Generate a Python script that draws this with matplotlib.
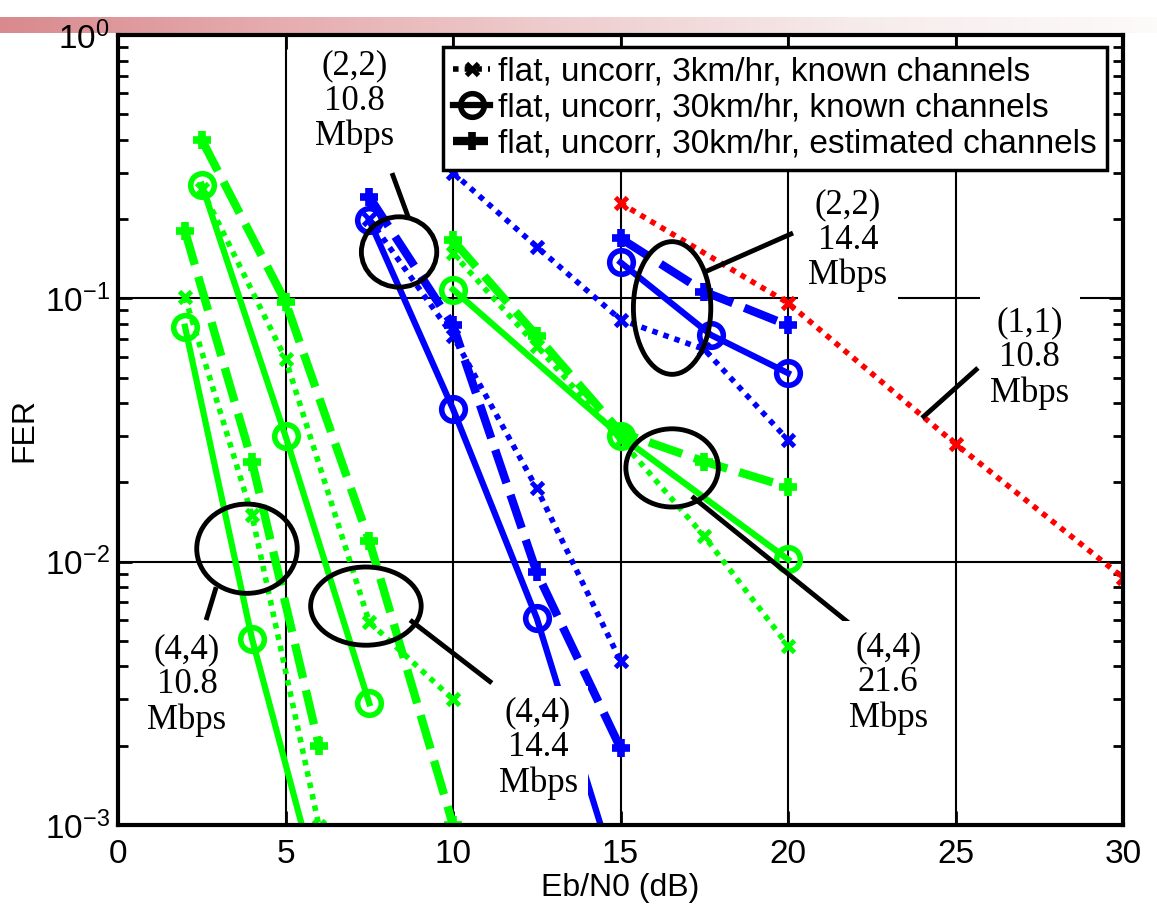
import numpy as np
import matplotlib
matplotlib.use("Agg")
import matplotlib.pyplot as plt
from matplotlib.patches import Ellipse
from matplotlib.lines import Line2D
from matplotlib.colors import LinearSegmentedColormap
from matplotlib.ticker import NullLocator

plt.rcParams['font.family'] = ['Liberation Sans', 'DejaVu Sans']
plt.rcParams['mathtext.default'] = 'regular'

# ---- values (FER vs Eb/N0) ----
# "slow" = 3km/hr known channels (dotted, x)
# "fast" = 30km/hr known channels (solid, o)
# "est"  = 30km/hr estimated channels (dashed, +)

# (4,4) 10.8 Mbps, green
g108_x = [2, 4, 6]
g108_slow = [0.101, 0.015, 0.00099]
g108_fast = [0.078, 0.0051, 0.00057]
g108_est = [0.18, 0.024, 0.002]

# (4,4) 14.4 Mbps, green
g144_x = [2.5, 5, 7.5, 10]
g144_slow = [0.26, 0.059, 0.0059, 0.003]
g144_fast_x = [2.5, 5, 7.5]
g144_fast = [0.27, 0.030, 0.0029]
g144_est = [0.40, 0.097, 0.012, 0.001]

# (2,2) 10.8 Mbps, blue
b108_x = [7.5, 10, 12.5, 15]
b108_slow = [0.20, 0.072, 0.019, 0.0042]
b108_fast = [0.198, 0.038, 0.0061, 0.00057]
b108_est = [0.243, 0.079, 0.0091, 0.00196]

# (4,4) 21.6 Mbps, green
g216_x = [10, 12.5, 15, 17.5, 20]
g216_slow = [0.148, 0.066, 0.029, 0.0125, 0.0048]
g216_fast_x = [10, 15, 20]
g216_fast = [0.108, 0.030, 0.0102]
g216_est = [0.166, 0.072, 0.031, 0.024, 0.0192]

# (2,2) 14.4 Mbps, blue
b144_slow_x = [10, 12.5, 15, 17.5, 20]
b144_slow = [0.30, 0.157, 0.083, 0.064, 0.029]
b144_fast_x = [15, 17.7, 20]
b144_fast = [0.137, 0.0726, 0.052]
b144_est_x = [15, 17.5, 20]
b144_est = [0.169, 0.106, 0.079]

# (1,1) 10.8 Mbps, red
r108_x = [15, 20, 25, 30]
r108_slow = [0.23, 0.096, 0.028, 0.0087]

legend_labels = ["flat, uncorr, 3km/hr, known channels",
                 "flat, uncorr, 30km/hr, known channels",
                 "flat, uncorr, 30km/hr, estimated channels"]

GREEN = '#00ff00'
BLUE = '#0000ff'
RED = '#ff0000'

# line styles for the three channel conditions
styles = {
    'slow': dict(ls=(0, (1, 1.1)), lw=4, marker='x', ms=9, mew=3.5),
    'fast': dict(ls='-', lw=4.5, marker='o', ms=17, mew=4, mfc='none'),
    'est': dict(ls=(0, (4.2, 1.5)), lw=6, marker='+', ms=13, mew=5.5),
}

fig = plt.figure(figsize=(11.57, 9.08), dpi=100)

# pink slide banner at the top
bar = fig.add_axes([0, 1 - 33 / 908, 1, 16 / 908], zorder=-1)
cmap = LinearSegmentedColormap.from_list(
    'banner', ['#d98a8e', '#e6aeb1', '#efcfd0', '#f7ecec', '#fdfafa'])
bar.imshow(np.linspace(0, 1, 256)[None, :], aspect='auto', cmap=cmap)
bar.axis('off')

ax = fig.add_axes([118 / 1157, 1 - 825 / 908, 1005 / 1157, 790 / 908])


def draw(x, y, color, kind):
    ax.plot(x, y, color=color, mec=color, dash_capstyle='butt', **styles[kind])


draw(g108_x, g108_slow, GREEN, 'slow')
draw(g108_x, g108_fast, GREEN, 'fast')
draw(g108_x, g108_est, GREEN, 'est')

draw(g144_x, g144_slow, GREEN, 'slow')
draw(g144_fast_x, g144_fast, GREEN, 'fast')
draw(g144_x, g144_est, GREEN, 'est')

draw(b108_x, b108_slow, BLUE, 'slow')
draw(b108_x, b108_fast, BLUE, 'fast')
draw(b108_x, b108_est, BLUE, 'est')

draw(g216_x, g216_slow, GREEN, 'slow')
draw(g216_fast_x, g216_fast, GREEN, 'fast')
draw(g216_x, g216_est, GREEN, 'est')

draw(b144_slow_x, b144_slow, BLUE, 'slow')
draw(b144_fast_x, b144_fast, BLUE, 'fast')
draw(b144_est_x, b144_est, BLUE, 'est')

draw(r108_x, r108_slow, RED, 'slow')

ax.set_yscale('log')
ax.set_xlim(0, 30)
ax.set_ylim(1e-3, 1)
ax.set_xticks([0, 5, 10, 15, 20, 25, 30])
ax.xaxis.set_minor_locator(NullLocator())
ax.set_axisbelow(True)
ax.grid(True, which='major', color='k', lw=1.5)
ax.tick_params(which='both', direction='in', top=True, right=True,
               width=2, labelsize=24)
ax.tick_params(which='major', length=10)
ax.tick_params(which='minor', length=7)
ax.tick_params(axis='x', pad=10)
ax.tick_params(axis='y', pad=6)
for sp in ax.spines.values():
    sp.set_linewidth(3)
ax.set_xlabel("Eb/N0 (dB)", fontsize=23, labelpad=2)
ax.set_ylabel("FER", fontsize=23, labelpad=4)

# ---- annotations: ellipse around a group, leader line, label ----
ann_style = dict(fontsize=25, family=['Liberation Serif', 'DejaVu Serif'],
                 ha='center', va='center', linespacing=1.08, zorder=6,
                 bbox=dict(boxstyle='square,pad=0.3', fc='white', ec='none'))
notes = [
    # label, text pos, ellipse centre, ellipse w/h (axes fraction), leader start, leader end
    ("(2,2)\n10.8\nMbps", (7.07, 0.56), (8.39, 0.150), (0.075, 0.089), (8.66, 0.204), (8.18, 0.299)),
    ("(2,2)\n14.4\nMbps", (21.79, 0.166), (16.54, 0.0919), (0.077, 0.168), (17.52, 0.126), (20.15, 0.177)),
    ("(4,4)\n21.6\nMbps", (22.99, 0.00346), (16.54, 0.0227), (0.092, 0.099), (17.13, 0.0177), (22.0, 0.0056)),
    ("(4,4)\n10.8\nMbps", (2.06, 0.0034), (3.85, 0.0112), (0.100, 0.113), (2.93, 0.0080), (2.63, 0.0060)),
    ("(4,4)\n14.4\nMbps", (12.54, 0.00196), (7.40, 0.00678), (0.110, 0.099), (8.72, 0.0060), (11.16, 0.00346)),
    ("(1,1)\n10.8\nMbps", (27.22, 0.0593), None, None, (24.0, 0.0351), (25.67, 0.0544)),
]
to_axes = ax.transData + ax.transAxes.inverted()
for label, txy, ecen, esize, p0, p1 in notes:
    ax.text(txy[0], txy[1], label, **ann_style)
    ax.plot([p0[0], p1[0]], [p0[1], p1[1]], color='k', lw=3.5,
            solid_capstyle='butt', zorder=5)
    if ecen is not None:
        ax.add_patch(Ellipse(to_axes.transform(ecen), esize[0], esize[1],
                             transform=ax.transAxes, fill=False, ec='k',
                             lw=3.5, zorder=5))

# legend in black
handles = [Line2D([], [], color='k', mec='k', **styles[k]) for k in ('slow', 'fast', 'est')]
leg = ax.legend(handles, legend_labels, loc='upper right',
                bbox_to_anchor=(0.984, 0.985), fontsize=24, frameon=True,
                fancybox=False, framealpha=1, edgecolor='k',
                handlelength=1.1, handletextpad=0.25, borderpad=0.3,
                labelspacing=0.15, borderaxespad=0)
leg.get_frame().set_linewidth(2.5)
leg.set_zorder(10)

fig.savefig("out.png", dpi=100)
